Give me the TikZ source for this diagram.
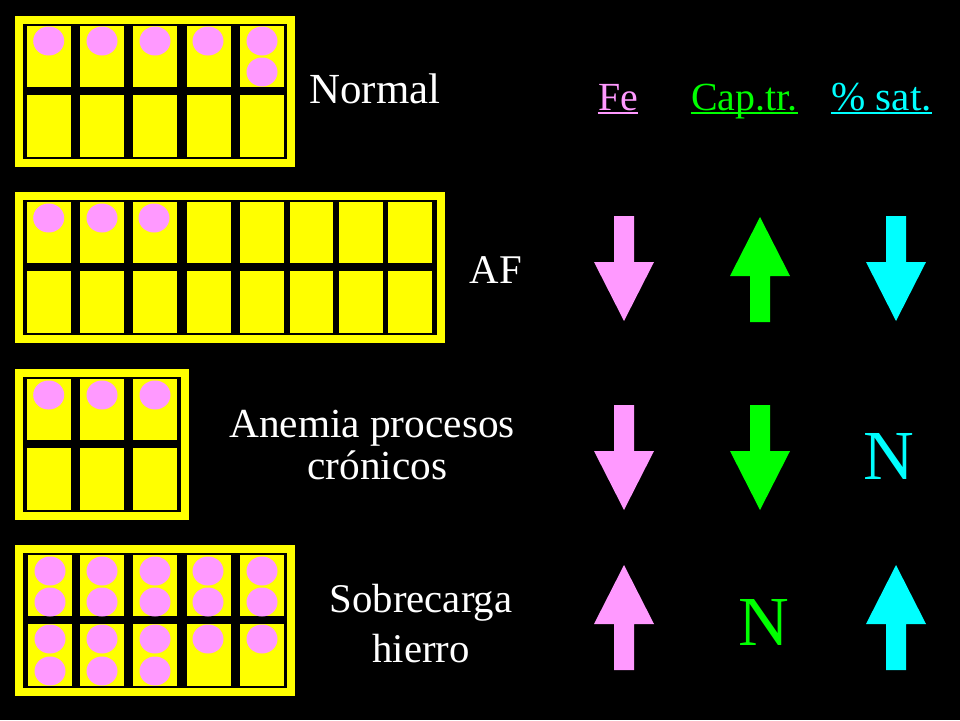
\documentclass[tikz,border=0pt]{standalone}
\usepackage{fontspec}
\setmainfont{Liberation Serif}
\usepackage{tikz}
\usetikzlibrary{positioning}
\definecolor{ironpink}{HTML}{FF99FF}
\definecolor{capgreen}{HTML}{00FF00}
\definecolor{satcyan}{HTML}{00FFFF}
\definecolor{cellyellow}{HTML}{FFFF00}
\tikzset{
    heading/.style={anchor=base, inner sep=0pt, font=\fontsize{22.7}{27}\selectfont},
    headrule/.style={line width=1.2pt},
    rowlabel/.style={white, inner sep=0pt, align=center},
    bigN/.style={anchor=base, inner sep=0pt, font=\fontsize{40}{44}\selectfont}
}
% one frame: top edge, right edge, cell lefts
\newcommand{\ironframe}[3]{
    \fill [cellyellow] (15, #1) rectangle (#2, #1 + 151);
    \fill [black] (23, #1 + 8) rectangle (#2 - 8, #1 + 143);
    \foreach \cx in {#3} {
        \fill [cellyellow] (\cx, #1 + 10) rectangle (\cx + 43.5, #1 + 71);
        \fill [cellyellow] (\cx, #1 + 79) rectangle (\cx + 43.5, #1 + 141);
    }
}
\newcommand{\ironball}[2]{
    \fill [ironpink] (#1, #2) ellipse (15.5 and 14.5);
}
\newcommand{\arrowdn}[3]{
    \fill [#3] (#1 - 10, #2) -- (#1 + 10, #2) -- (#1 + 10, #2 + 46) -- (#1 + 30, #2 + 46)
        -- (#1, #2 + 105) -- (#1 - 30, #2 + 46) -- (#1 - 10, #2 + 46) -- cycle;
}
\newcommand{\arrowup}[3]{
    \fill [#3] (#1, #2) -- (#1 + 30, #2 + 59) -- (#1 + 10, #2 + 59) -- (#1 + 10, #2 + 105)
        -- (#1 - 10, #2 + 105) -- (#1 - 10, #2 + 59) -- (#1 - 30, #2 + 59) -- cycle;
}

\begin{document}
\begin{tikzpicture}[x=0.02cm, y=-0.02cm]
    \fill [black] (0, 0) rectangle (960, 720);

    \ironframe{16}{295}{27, 80, 133, 187, 240}
    \ironframe{192}{445}{27, 80, 133, 187, 240, 289.5, 339, 388}
    \ironframe{369}{189}{27, 80, 133}
    \ironframe{545}{295}{28, 80, 133, 187, 240}

    \foreach \bx in {48.7, 102, 155, 208, 262} {\ironball{\bx}{41}}
    \ironball{262}{72}
    \foreach \bx in {48.7, 102, 154} {\ironball{\bx}{218}}
    \foreach \bx in {48.7, 102, 155} {\ironball{\bx}{395}}
    \foreach \bx in {50, 102, 155, 208, 262} {
        \ironball{\bx}{571}
        \ironball{\bx}{602}
        \ironball{\bx}{639}
    }
    \foreach \bx in {50, 102, 155} {\ironball{\bx}{671}}

    \node [rowlabel, font=\fontsize{24.4}{28}\selectfont] (normal) at (375, 89) {Normal};
    \node [rowlabel, font=\fontsize{23.2}{28}\selectfont] (af) at (496, 270) {AF};
    \node [rowlabel, font=\fontsize{23.5}{24.4}\selectfont] (anemia) at (372, 445) {Anemia procesos\\\hspace*{6pt}crónicos};
    \node [rowlabel, font=\fontsize{23.2}{28.4}\selectfont] (sobrecarga) at (421, 623.5) {Sobrecarga\\hierro};

    \node [heading, ironpink] (fe) at (618, 110) {Fe};
    \node [heading, capgreen] (captr) at (744.5, 110) {Cap.tr.};
    \node [heading, satcyan, font=\fontsize{23.4}{27}\selectfont] (sat) at (881.5, 110) {\% sat.};

    \draw [headrule, ironpink] ([yshift=-1.8pt]fe.base west) -- ([yshift=-1.8pt]fe.base east);
    \draw [headrule, capgreen] ([yshift=-1.8pt]captr.base west) -- ([yshift=-1.8pt]captr.base east);
    \draw [headrule, satcyan] ([yshift=-1.8pt]sat.base west) -- ([yshift=-1.8pt]sat.base east);

    \arrowdn{624}{216}{ironpink}
    \arrowup{760}{217}{capgreen}
    \arrowdn{896}{216}{satcyan}

    \arrowdn{624}{405}{ironpink}
    \arrowdn{760}{405}{capgreen}
    \node [bigN, satcyan] (satn) at (889, 479) {N};

    \arrowup{624}{565}{ironpink}
    \node [bigN, capgreen] (capn) at (763.5, 645) {N};
    \arrowup{896}{565}{satcyan}
\end{tikzpicture}
\end{document}
